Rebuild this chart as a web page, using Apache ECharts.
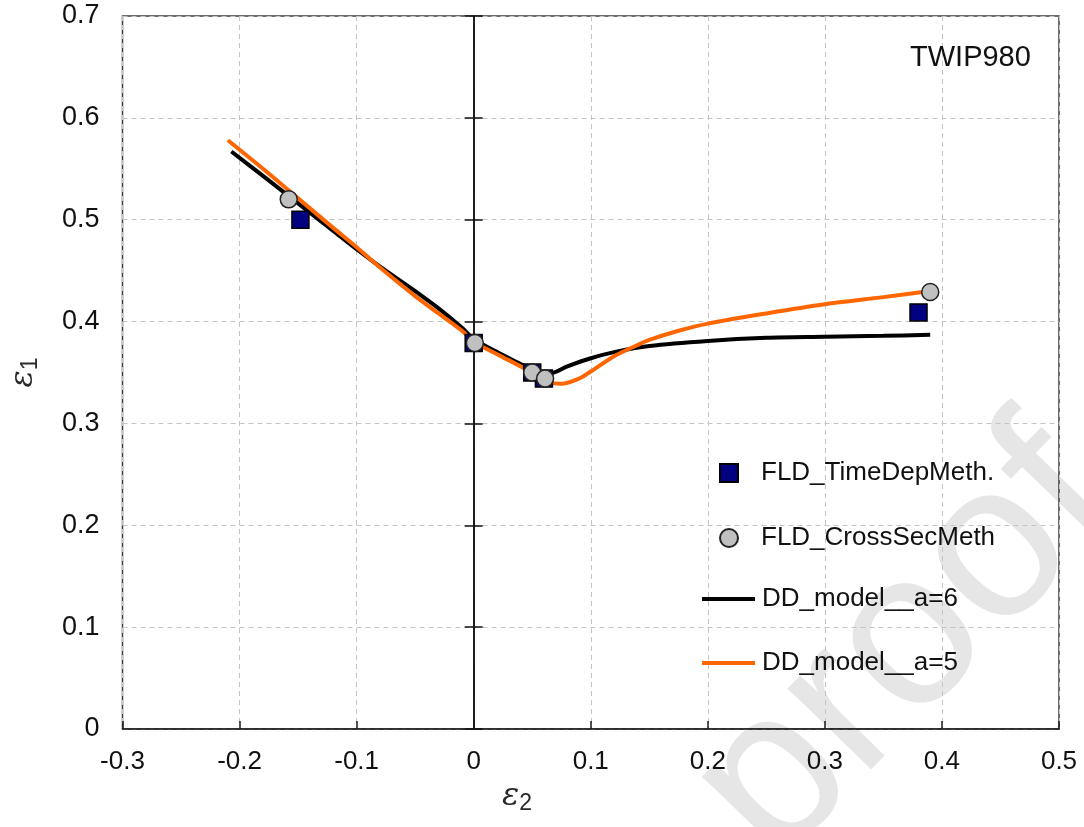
<!DOCTYPE html>
<html>
<head>
<meta charset="utf-8">
<script src="https://cdn.jsdelivr.net/npm/echarts@6/dist/echarts.min.js"></script>
<style>
html,body{margin:0;padding:0;background:#fff;}
#chart{width:1084px;height:827px;}
</style>
</head>
<body>
<div id="chart"></div>
<script>
// ---- data ----
var xTicks = [-0.3, -0.2, -0.1, 0, 0.1, 0.2, 0.3, 0.4, 0.5];
var yTicks = [0, 0.1, 0.2, 0.3, 0.4, 0.5, 0.6, 0.7];

var timeDepX = [-0.148, 0, 0.05, 0.06, 0.38];
var timeDepY = [0.50, 0.379, 0.350, 0.344, 0.409];

var crossSecX = [-0.158, 0.001, 0.050, 0.061, 0.390];
var crossSecY = [0.520, 0.379, 0.350, 0.344, 0.429];

var a6X = [-0.207, -0.18, -0.15, -0.12, -0.10, -0.08, -0.05, -0.03, -0.01, 0, 0.02, 0.05, 0.065, 0.08, 0.10, 0.12, 0.15, 0.20, 0.25, 0.30, 0.35, 0.39];
var a6Y = [0.567, 0.543, 0.516, 0.489, 0.471, 0.454, 0.430, 0.413, 0.394, 0.383, 0.370, 0.353, 0.349, 0.356, 0.364, 0.370, 0.376, 0.381, 0.384, 0.385, 0.386, 0.387];

var a5X = [-0.21, -0.18, -0.15, -0.12, -0.10, -0.08, -0.05, -0.03, -0.01, 0, 0.02, 0.05, 0.065, 0.075, 0.09, 0.10, 0.12, 0.14, 0.15, 0.175, 0.20, 0.25, 0.30, 0.35, 0.39];
var a5Y = [0.578, 0.550, 0.521, 0.492, 0.473, 0.453, 0.425, 0.408, 0.391, 0.380, 0.368, 0.350, 0.340, 0.339, 0.344, 0.351, 0.366, 0.377, 0.382, 0.391, 0.398, 0.408, 0.417, 0.424, 0.430];

var names = ['FLD_TimeDepMeth.', 'FLD_CrossSecMeth', 'DD_model__a=6', 'DD_model__a=5'];
var annotation = 'TWIP980';
var xName = ['ε', '2'];
var yName = ['ε', '1'];
var watermark = 'Journal Pre-proof';

function zip(xs, ys) { return xs.map(function (x, i) { return [x, ys[i]]; }); }

var FONT = '"Liberation Sans", Arial, sans-serif';
var TXT = '#111111';
var chart = echarts.init(document.getElementById('chart'), null, {renderer: 'canvas'});

var yBase = {
  type: 'value', min: yTicks[0], max: yTicks[yTicks.length - 1], interval: 0.1
};
function fmt(v) { return String(Math.round(v * 10) / 10); }

var option = {
  animation: false,
  backgroundColor: '#ffffff',
  grid: {
    left: 121, right: 25, top: 16, bottom: 98,
    show: true, borderColor: '#3c3c3c', borderWidth: 1.5, backgroundColor: 'transparent'
  },
  xAxis: {
    type: 'value', min: xTicks[0], max: xTicks[xTicks.length - 1], interval: 0.1,
    axisLine: {onZero: false, lineStyle: {color: '#1a1a1a', width: 1.5}},
    axisTick: {show: true, inside: true, length: 8, lineStyle: {color: '#1a1a1a', width: 1.5}},
    axisLabel: {color: TXT, fontFamily: FONT, fontSize: 26, margin: 20, formatter: fmt},
    splitLine: {show: true, lineStyle: {color: '#c4c4c4', type: [5, 4], width: 1}}
  },
  yAxis: [
    Object.assign({}, yBase, {
      position: 'left',
      axisLine: {show: false, onZero: false},
      axisTick: {show: false},
      axisLabel: {color: TXT, fontFamily: FONT, fontSize: 27, margin: 23, formatter: fmt},
      splitLine: {show: true, lineStyle: {color: '#c4c4c4', type: [5, 4], width: 1}},
      name: '{e|' + yName[0] + '}{s|' + yName[1] + '}',
      nameLocation: 'middle', nameGap: 80,
      nameTextStyle: {
        rich: {
          e: {fontFamily: '"DejaVu Serif", serif', fontStyle: 'italic', fontSize: 32, color: '#2a2a2a'},
          s: {fontFamily: FONT, fontSize: 23, color: '#2a2a2a', padding: [14, 0, 0, 0]}
        }
      }
    }),
    Object.assign({}, yBase, {
      position: 'left',
      axisLine: {show: true, onZero: true, onZeroAxisIndex: 0, lineStyle: {color: '#111', width: 1.5}},
      axisTick: {show: true, inside: false, length: 9, lineStyle: {color: '#111', width: 1.5}},
      axisLabel: {show: false},
      splitLine: {show: false}
    }),
    Object.assign({}, yBase, {
      position: 'right',
      axisLine: {show: true, onZero: true, onZeroAxisIndex: 0, lineStyle: {color: '#111', width: 1.5}},
      axisTick: {show: true, inside: false, length: 9, lineStyle: {color: '#111', width: 1.5}},
      axisLabel: {show: false},
      splitLine: {show: false}
    })
  ],
  legend: [
    {
      orient: 'vertical', padding: 0,
      left: 719, top: 460,
      itemWidth: 18, itemHeight: 18, itemGap: 39,
      selectedMode: false,
      textStyle: {fontFamily: FONT, fontSize: 26, color: TXT, lineHeight: 25, padding: [0, 0, 0, 18]},
      data: [names[0], names[1]]
    },
    {
      orient: 'vertical', padding: 0,
      left: 700, top: 586,
      itemWidth: 53, itemHeight: 18, itemGap: 38,
      selectedMode: false,
      textStyle: {fontFamily: FONT, fontSize: 26, color: TXT, lineHeight: 25, padding: [0, 0, 0, 2]},
      data: [
        {name: names[2], itemStyle: {color: 'rgba(0,0,0,0)', borderWidth: 0, opacity: 0}, lineStyle: {width: 4, color: '#000000'}},
        {name: names[3], itemStyle: {color: 'rgba(0,0,0,0)', borderWidth: 0, opacity: 0}, lineStyle: {width: 4, color: '#ff6600'}}
      ]
    }
  ],
  graphic: [
    {
      type: 'text', z: -10, silent: true,
      x: 1081, y: 466, rotation: 0.8,
      style: {text: watermark, font: '220px ' + FONT, fill: '#e6e6e6', textAlign: 'right', textVerticalAlign: 'middle'}
    },
    {
      type: 'text', z: 100, left: 910, top: 43,
      style: {text: annotation, font: '29px ' + FONT, fill: TXT}
    },
    {
      type: 'text', z: 100, left: 502, top: 781,
      style: {
        text: '{e|' + xName[0] + '}{s|' + xName[1] + '}',
        rich: {
          e: {fontFamily: '"DejaVu Serif", serif', fontStyle: 'italic', fontSize: 32, fill: '#2a2a2a'},
          s: {fontFamily: FONT, fontSize: 23, fill: '#2a2a2a', padding: [14, 0, 0, 0]}
        }
      }
    }
  ],
  series: [
    {
      name: names[2], type: 'line', data: zip(a6X, a6Y), smooth: 0.3,
      showSymbol: false, symbol: 'none', z: 3,
      lineStyle: {color: '#000000', width: 4}, itemStyle: {color: '#000000'}
    },
    {
      name: names[3], type: 'line', data: zip(a5X, a5Y), smooth: 0.3,
      showSymbol: false, symbol: 'none', z: 4,
      lineStyle: {color: '#ff6600', width: 4}, itemStyle: {color: '#ff6600'}
    },
    {
      name: names[0], type: 'scatter', data: zip(timeDepX, timeDepY), z: 5,
      symbol: 'rect', symbolSize: 17,
      itemStyle: {color: '#000080', borderColor: '#000000', borderWidth: 1.5, opacity: 1}
    },
    {
      name: names[1], type: 'scatter', data: zip(crossSecX, crossSecY), z: 6,
      symbol: 'circle', symbolSize: 17,
      itemStyle: {color: '#c0c0c0', borderColor: '#222222', borderWidth: 1.5, opacity: 1}
    }
  ]
};
chart.setOption(option);
</script>
</body>
</html>
